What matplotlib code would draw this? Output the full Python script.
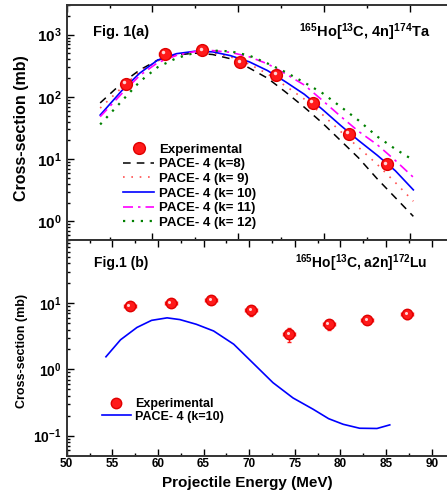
import numpy as np
import matplotlib
matplotlib.use('Agg')
import matplotlib.pyplot as plt
from matplotlib.transforms import offset_copy
from matplotlib.ticker import MultipleLocator, FixedLocator, FixedFormatter, LogLocator, NullFormatter
from matplotlib.lines import Line2D

plt.rcParams['font.family'] = 'Liberation Sans'
plt.rcParams['font.weight'] = 'bold'
plt.rcParams['mathtext.fontset'] = 'custom'
plt.rcParams['mathtext.rm'] = 'Liberation Sans:bold'
plt.rcParams['mathtext.bf'] = 'Liberation Sans:bold'
plt.rcParams['mathtext.it'] = 'Liberation Sans:bold'

# ---- data ----
# experimental beam energies (MeV)
e_exp = [56.9, 61.4, 65.8, 70.2, 74.4, 78.7, 82.9, 87.3]

# Fig 1(a): 165Ho(13C,4n)174Ta
sig_4n = [162, 490, 560, 360, 228, 80, 25.6, 8.3]
sig_4n_err = [12, 35, 40, 28, 18, 7, 2.2, 0.8]

e_pace_a = [53.9, 56.4, 58.5, 60.6, 62.8, 64.9, 67.0, 69.1, 71.3, 73.4,
            75.5, 77.7, 79.8, 81.9, 84.0, 86.2, 88.3, 90.4]
pace_k8 = [80, 165, 270, 390, 470, 505, 480, 410, 290, 200, 120, 68, 38, 20, 10.5, 4.8, 2.4, 1.2]
pace_k9 = [66, 140, 255, 380, 480, 525, 510, 440, 335, 235, 150, 92, 52, 28, 15.5, 8.2, 4.2, 2.1]
pace_k10 = [51, 125, 240, 390, 495, 540, 530, 460, 365, 265, 175, 110, 63, 35, 20, 11.5, 6.5, 3.2]
pace_k11 = [48, 112, 220, 355, 465, 535, 555, 520, 440, 340, 235, 155, 88, 49, 28, 17, 9.5, 5.1]
pace_k12 = [36, 85, 175, 300, 420, 510, 555, 540, 460, 345, 250, 170, 115, 70, 42, 23, 14.5, 9.6]

# Fig 1(b): 165Ho(13C,a2n)172Lu
sig_a2n = [9.1, 10.0, 11.2, 7.8, 3.4, 4.8, 5.5, 6.9]
sig_a2n_err = [0.5, 0.6, 0.8, 1.3, 0.8, 0.8, 0.4, 1.1]

e_pace_b = [54.3, 55.9, 57.7, 59.3, 61.0, 62.4, 64.2, 66.1, 68.3, 70.4,
            72.6, 74.8, 77.0, 78.7, 80.3, 82.1, 84.0, 85.4]
pace_b_k10 = [1.55, 2.8, 4.3, 5.5, 6.0, 5.65, 4.8, 3.8, 2.4, 1.25,
              0.63, 0.37, 0.25, 0.18, 0.148, 0.129, 0.128, 0.145]

W, H = 447, 498
fig = plt.figure(figsize=(W / 100, H / 100), dpi=100)


def px_axes(left, top, right, bottom):
    return fig.add_axes([left / W, 1 - bottom / H, (right - left) / W, (bottom - top) / H])


def log_labels(ax, decades, size):
    vals = [10.0 ** d for d in decades]
    ax.yaxis.set_major_locator(FixedLocator(vals))
    ax.yaxis.set_major_formatter(FixedFormatter([r'$\mathbf{10^{%d}}$' % d for d in decades]))
    ax.yaxis.set_minor_locator(LogLocator(base=10, subs=np.arange(2, 10), numticks=20))
    ax.yaxis.set_minor_formatter(NullFormatter())
    ax.tick_params(axis='y', labelsize=size)


def style_spines(ax):
    for s in ax.spines.values():
        s.set_linewidth(1.4)
        s.set_color('#333333')
    ax.tick_params(which='both', direction='in', top=True, right=False, width=1.0)
    ax.tick_params(which='major', length=5)
    ax.tick_params(which='minor', length=2.5)


red = '#ff1a1a'

# ---------- Fig 1(a) ----------
ax1 = px_axes(66.7, 5, 452.8, 240)
ax1.set_yscale('log')
ax1.plot(e_pace_a, pace_k8, color='k', ls=(0, (5, 4)), lw=1.1)
ax1.plot(e_pace_a, pace_k9, color='#ff5050', ls=(0, (1, 4)), lw=1.2)
ax1.plot(e_pace_a, pace_k10, color='#0000ff', ls='-', lw=1.2)
ax1.plot(e_pace_a, pace_k11, color='#ff00ff', ls=(0, (6, 3, 1.5, 3)), lw=1.2)
ax1.plot(e_pace_a, pace_k12, color='#008000', ls=(0, (1, 3)), lw=1.6)
ax1.errorbar(e_exp, sig_4n, xerr=0.6, yerr=sig_4n_err, fmt='none', ecolor=red, elinewidth=1, capsize=1.5)
ax1.plot(e_exp, sig_4n, 'o', ms=8.5, color=red, mec='#e00000')
ax1.plot(e_exp, sig_4n, 'o', ms=2.5, color='#ffd6d6', mec='none',
         transform=offset_copy(ax1.transData, fig=fig, x=-1.5, y=1.5, units='dots'))

ax1.set_xlim(50, 95)
ax1.set_ylim(0.5, 3000)
ax1.xaxis.set_major_locator(MultipleLocator(10))
ax1.xaxis.set_minor_locator(MultipleLocator(5))
ax1.tick_params(axis='x', labelbottom=False)
log_labels(ax1, [0, 1, 2, 3], 11)
style_spines(ax1)

h_a = [Line2D([], [], ls='none', marker='o', ms=8.5, color=red, mec='#e00000'),
       Line2D([], [], color='k', ls=(0, (5, 4)), lw=1.1),
       Line2D([], [], color='#ff5050', ls=(0, (1, 4)), lw=1.2),
       Line2D([], [], color='#0000ff', lw=1.2),
       Line2D([], [], color='#ff00ff', ls=(0, (6, 3, 1.5, 3)), lw=1.2),
       Line2D([], [], color='#008000', ls=(0, (1, 3)), lw=1.6)]
l_a = ['Experimental', 'PACE- 4 (k=8)', 'PACE- 4 (k= 9)', 'PACE- 4 (k= 10)',
       'PACE- 4 (k= 11)', 'PACE- 4 (k= 12)']
ax1.legend(h_a, l_a, loc='upper left', bbox_to_anchor=(0.146, 0.41), frameon=False,
           borderpad=0, borderaxespad=0, handlelength=2.35, handletextpad=0.4,
           labelspacing=0.18, fontsize=9.5)

# ---------- Fig 1(b) ----------
ax2 = px_axes(66.7, 240, 450, 455.5)
ax2.set_yscale('log')
ax2.plot(e_pace_b, pace_b_k10, color='#0000ff', lw=1.2)
ax2.errorbar(e_exp, sig_a2n, xerr=0.65, yerr=sig_a2n_err, fmt='none', ecolor=red, elinewidth=1, capsize=1.5)
ax2.plot(e_exp, sig_a2n, 'o', ms=7.5, color=red, mec='#e00000')
ax2.plot(e_exp, sig_a2n, 'o', ms=2.2, color='#ffd6d6', mec='none',
         transform=offset_copy(ax2.transData, fig=fig, x=-1.3, y=1.3, units='dots'))

ax2.set_xlim(50, 92)
ax2.set_ylim(0.05, 90)
ax2.xaxis.set_major_locator(MultipleLocator(5))
ax2.xaxis.set_minor_locator(MultipleLocator(2.5))
ax2.tick_params(axis='x', labelsize=8.5, pad=2)
log_labels(ax2, [-1, 0, 1], 10)
style_spines(ax2)

h_b = [Line2D([], [], ls='none', marker='o', ms=7.5, color=red, mec='#e00000'),
       Line2D([], [], color='#0000ff', lw=1.2)]
ax2.legend(h_b, ['Experimental', 'PACE- 4 (k=10)'], loc='upper left',
           bbox_to_anchor=(0.091, 0.265), frameon=False, borderpad=0, borderaxespad=0,
           handlelength=2.35, handletextpad=0.35, labelspacing=0.02, fontsize=9)

# ---------- texts ----------
fig.text(93 / W, 1 - 32 / H, 'Fig. 1(a)', ha='left', va='center', fontsize=10.5)
fig.text(430 / W, 1 - 32 / H, r'$^{165}$Ho[$^{13}$C, 4n]$^{174}$Ta', ha='right', va='center', fontsize=10.5)
fig.text(94 / W, 1 - 263 / H, 'Fig.1 (b)', ha='left', va='center', fontsize=10)
fig.text(427 / W, 1 - 263 / H, r'$^{165}$Ho[$^{13}$C, a2n]$^{172}$Lu', ha='right', va='center', fontsize=10)
fig.text(22 / W, 1 - 128 / H, 'Cross-section (mb)', rotation=90, ha='center', va='center', fontsize=11.5)
fig.text(22 / W, 1 - 351 / H, 'Cross-section (mb)', rotation=90, ha='center', va='center', fontsize=9)
fig.text(247 / W, 1 - 483 / H, 'Projectile Energy (MeV)', ha='center', va='center', fontsize=11)

fig.savefig('out.png', dpi=100)
